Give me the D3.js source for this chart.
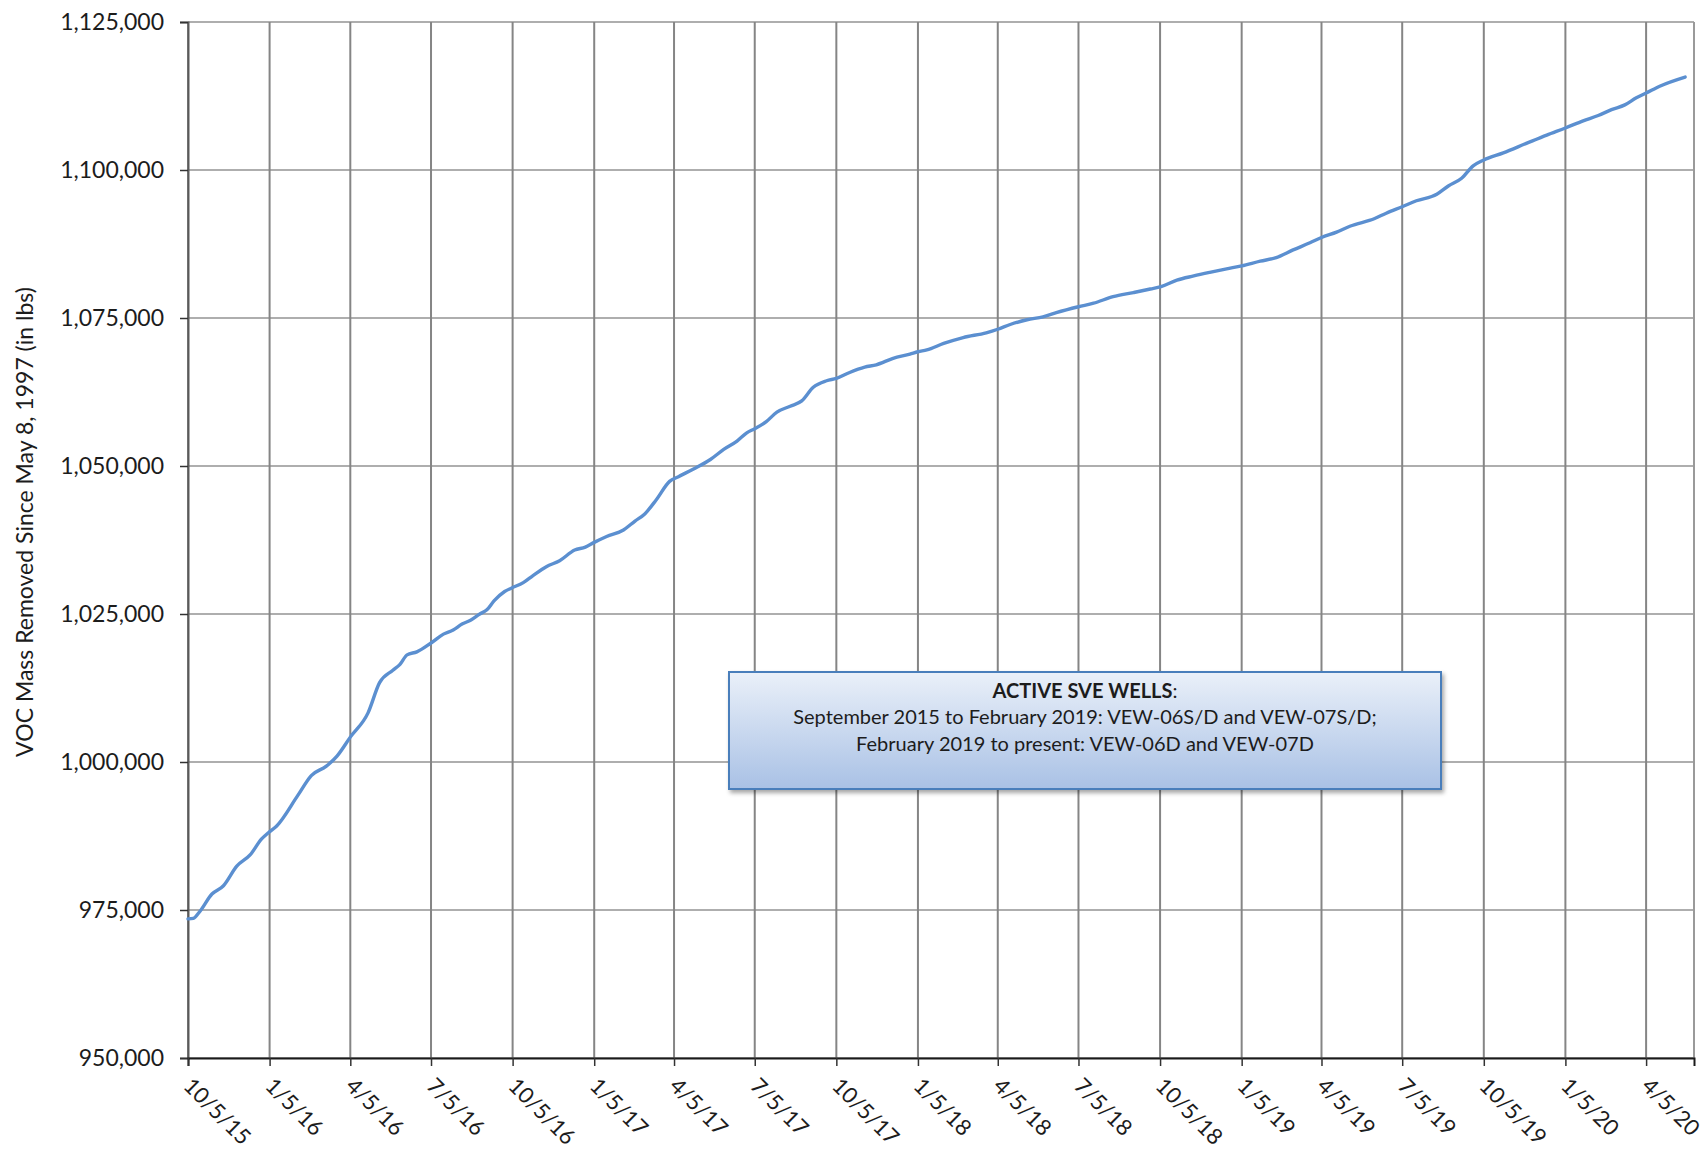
<!DOCTYPE html>
<html><head><meta charset="utf-8">
<script src="https://cdn.jsdelivr.net/npm/d3@7"></script>
<style>
body{margin:0;background:#fff}
svg{display:block}
text{font-family:Lato,'Open Sans',sans-serif;fill:#1c1c1c}
</style>
</head><body>
<svg id="chart" width="1705" height="1149"></svg>
<script>
// ---- data ----
const dates = [
"2015-10-05","2015-10-11","2015-10-18","2015-11-01","2015-11-14","2015-11-29","2015-12-14","2015-12-27",
"2016-01-04","2016-01-13","2016-02-06","2016-02-21","2016-03-09","2016-03-21","2016-04-05","2016-04-25",
"2016-05-08","2016-05-23","2016-05-31","2016-06-08","2016-06-19","2016-07-05","2016-07-19","2016-07-30",
"2016-08-09","2016-08-18","2016-08-29","2016-09-06","2016-09-14","2016-09-26","2016-10-04","2016-10-17",
"2016-10-28","2016-11-12","2016-11-27","2016-12-14","2016-12-26","2017-01-05","2017-01-19","2017-02-07",
"2017-02-20","2017-03-03","2017-03-16","2017-03-31","2017-04-10","2017-04-27","2017-05-16","2017-05-31",
"2017-06-15","2017-06-26","2017-07-05","2017-07-18","2017-07-30","2017-08-14","2017-08-27","2017-09-09",
"2017-09-24","2017-10-05","2017-10-20","2017-11-06","2017-11-19","2017-12-08","2017-12-27","2018-01-05",
"2018-01-15","2018-02-03","2018-02-25","2018-03-23","2018-04-05","2018-04-19","2018-05-08","2018-05-26",
"2018-06-10","2018-07-05","2018-07-22","2018-08-13","2018-09-05","2018-09-24","2018-10-06","2018-10-24",
"2018-11-12","2018-11-30","2018-12-19","2019-01-05","2019-01-26","2019-02-13","2019-03-04","2019-03-23",
"2019-04-05","2019-04-22","2019-05-07","2019-06-04","2019-06-17","2019-07-05","2019-07-21","2019-08-13",
"2019-08-26","2019-09-10","2019-09-23","2019-10-05","2019-10-27","2019-11-22","2019-12-15","2020-01-05",
"2020-01-25","2020-02-11","2020-02-26","2020-03-12","2020-03-25","2020-04-05","2020-04-21","2020-05-19"
];
const values = [
973500,973600,974700,977700,979100,982400,984300,987000,
988100,989200,994400,997700,999300,1001000,1004200,1008300,
1013400,1015500,1016500,1018100,1018600,1020100,1021600,1022300,
1023300,1023900,1025000,1025700,1027200,1028800,1029400,1030300,
1031500,1033000,1034000,1035800,1036300,1037100,1038100,1039200,
1040700,1041900,1044300,1047400,1048200,1049500,1051100,1052800,
1054200,1055600,1056300,1057500,1059100,1060100,1061000,1063300,
1064400,1064800,1065800,1066700,1067100,1068200,1068900,1069300,
1069600,1070700,1071700,1072500,1073100,1073900,1074700,1075200,
1075900,1076900,1077500,1078600,1079300,1079900,1080300,1081400,
1082100,1082700,1083300,1083800,1084600,1085200,1086500,1087700,
1088600,1089500,1090500,1091800,1092700,1093800,1094800,1095900,
1097300,1098600,1100700,1101700,1102900,1104500,1105900,1107100,
1108300,1109200,1110200,1111000,1112200,1113000,1114200,1115700
];
const xTickDates = [
"2015-10-05","2016-01-05","2016-04-05","2016-07-05","2016-10-05","2017-01-05","2017-04-05",
"2017-07-05","2017-10-05","2018-01-05","2018-04-05","2018-07-05","2018-10-05","2019-01-05",
"2019-04-05","2019-07-05","2019-10-05","2020-01-05","2020-04-05"
];
const yTickValues = [950000,975000,1000000,1025000,1050000,1075000,1100000,1125000];
const xDomain = ["2015-10-05","2020-05-29"];
const yDomain = [950000,1125000];
const yTitle = "VOC Mass Removed Since May 8, 1997 (in lbs)";
const boxTitle = "ACTIVE SVE WELLS";
const boxLines = [
"September 2015 to February 2019: VEW-06S/D and VEW-07S/D;",
"February 2019 to present: VEW-06D and VEW-07D"
];

// ---- layout ----
const L = 188, R = 1694, T = 22, B = 1058;
const parse = d3.timeParse("%Y-%m-%d");
const fmt = d3.timeFormat("%-m/%-d/%y");
const svg = d3.select("#chart");

const x = d3.scaleTime().domain(xDomain.map(parse)).range([L, R]);
const y = d3.scaleLinear().domain(yDomain).range([B, T]);

// horizontal gridlines
svg.append("g").selectAll("line").data(yTickValues).join("line")
  .attr("x1", L).attr("x2", R)
  .attr("y1", d => y(d)).attr("y2", d => y(d))
  .attr("stroke", "#939393").attr("stroke-width", 1.5);

// vertical gridlines
svg.append("g").selectAll("line").data(xTickDates.map(parse)).join("line")
  .attr("x1", d => x(d)).attr("x2", d => x(d))
  .attr("y1", T).attr("y2", B)
  .attr("stroke", "#858585").attr("stroke-width", 2);

// right border
svg.append("line").attr("x1", R).attr("x2", R).attr("y1", T).attr("y2", B)
  .attr("stroke", "#9a9a9a").attr("stroke-width", 2);

// y axis
const yAxis = d3.axisLeft(y).tickValues(yTickValues).tickSize(8).tickPadding(16)
  .tickFormat(d3.format(","));
const gy = svg.append("g").attr("transform", `translate(${L},0)`).call(yAxis);
gy.select(".domain").attr("stroke", "#5a5a5a").attr("stroke-width", 2);
gy.selectAll(".tick line").attr("stroke", "#333").attr("stroke-width", 1.5);
gy.selectAll(".tick text").style("font-size", "23px").style("font-family", "Lato").attr("fill", "#1c1c1c");

// x axis
const xAxis = d3.axisBottom(x).tickValues(xTickDates.map(parse)).tickSize(8).tickFormat(fmt);
const gx = svg.append("g").attr("transform", `translate(0,${B})`).call(xAxis);
gx.select(".domain").attr("stroke", "#1a1a1a").attr("stroke-width", 2);
gx.selectAll(".tick line").attr("stroke", "#333").attr("stroke-width", 1.5);
gx.selectAll(".tick text")
  .style("font-size", "22px").style("font-family", "Lato").attr("fill", "#1c1c1c")
  .attr("text-anchor", "start")
  .attr("y", 0).attr("dy", "0.72em")
  .attr("transform", "translate(5,18) rotate(45)");

// line
const pts = dates.map((d, i) => [parse(d), values[i]]);
svg.append("path").datum(pts)
  .attr("fill", "none").attr("stroke", "#5b8fd0").attr("stroke-width", 3.4)
  .attr("stroke-linejoin", "round").attr("stroke-linecap", "round")
  .attr("d", d3.line().x(d => x(d[0])).y(d => y(d[1])).curve(d3.curveMonotoneX));

// y title
svg.append("text")
  .attr("transform", `translate(25,${(T + B) / 2 - 18}) rotate(-90)`)
  .attr("text-anchor", "middle").attr("dy", "0.35em")
  .style("font-size", "23px")
  .text(yTitle);

// annotation box
const defs = svg.append("defs");
const grad = defs.append("linearGradient").attr("id", "boxgrad").attr("x1", 0).attr("x2", 0).attr("y1", 0).attr("y2", 1);
grad.append("stop").attr("offset", "0%").attr("stop-color", "#eaf0f9");
grad.append("stop").attr("offset", "100%").attr("stop-color", "#a9c1e5");
const filt = defs.append("filter").attr("id", "shadow").attr("x", "-5%").attr("y", "-10%").attr("width", "115%").attr("height", "130%");
filt.append("feDropShadow").attr("dx", 2).attr("dy", 3).attr("stdDeviation", 2).attr("flood-color", "#000").attr("flood-opacity", 0.35);

const bx = 729, by = 672, bw = 712, bh = 117;
svg.append("rect").attr("x", bx).attr("y", by).attr("width", bw).attr("height", bh)
  .attr("fill", "url(#boxgrad)").attr("stroke", "#4a7ebb").attr("stroke-width", 2)
  .attr("filter", "url(#shadow)");
const cx = bx + bw / 2;
const t1 = svg.append("text").attr("x", cx).attr("y", by + 12).attr("dy", "0.72em")
  .attr("text-anchor", "middle").style("font-size", "20px");
t1.append("tspan").style("font-weight", "bold").text(boxTitle);
t1.append("tspan").text(":");
boxLines.forEach((s, i) => {
  svg.append("text").attr("x", cx).attr("y", by + 45 + i * 27).attr("dy", "0.35em")
    .attr("text-anchor", "middle").style("font-size", "20px").text(s);
});
</script>
</body></html>
